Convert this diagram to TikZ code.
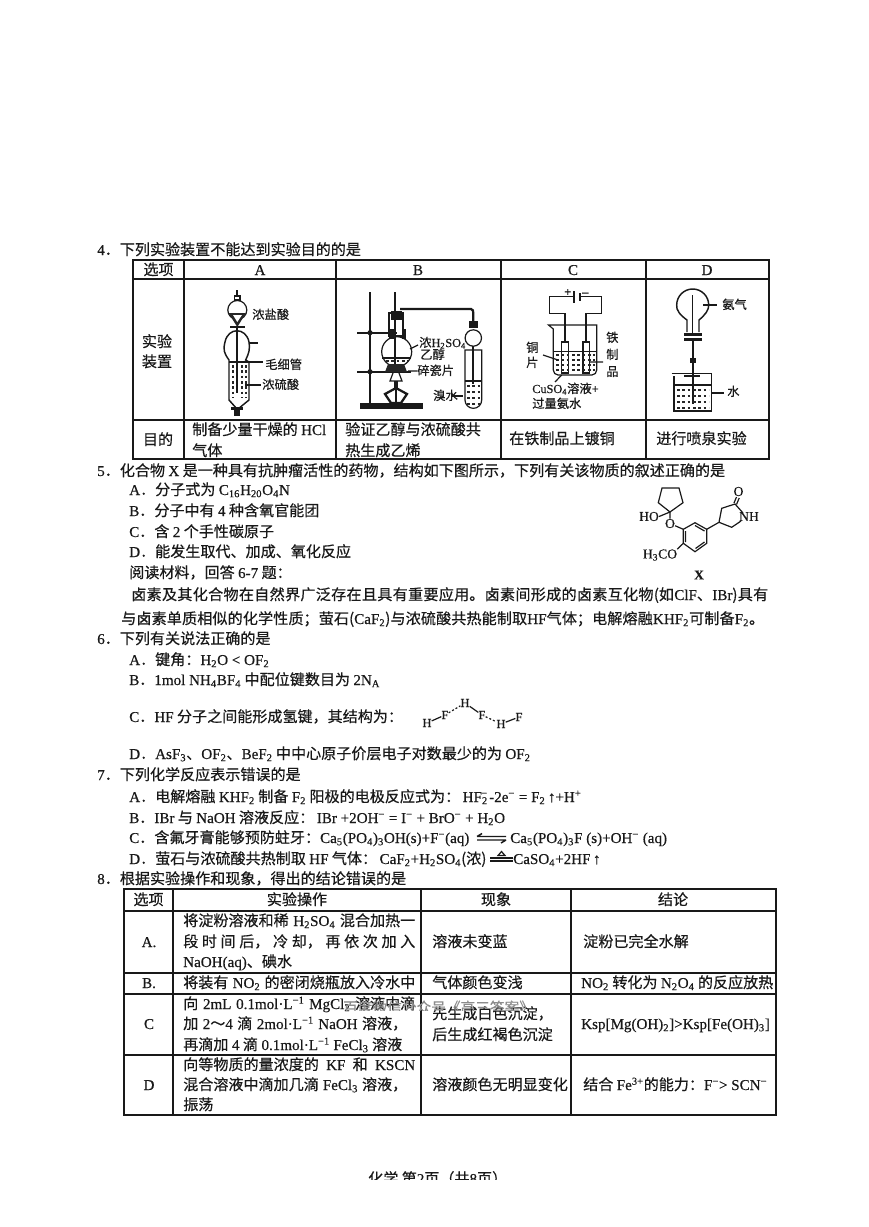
\documentclass[tikz,border=0pt]{standalone}
\usepackage{fontspec}
\setmainfont{Noto Sans CJK SC}[RawFeature={embolden=0.5}]
\newfontfamily\ltn{Liberation Serif}[RawFeature={embolden=0.5}]
\usetikzlibrary{calc}
\newcommand\Lt[1]{{\ltn #1}}
\newcommand\sbb[1]{\textsubscript{\ltn #1}}
\newcommand\spp[1]{\textsuperscript{\ltn #1}}
\newcommand\tx[4]{\node[lbl] (#1) at (#2,#3) {#4};}
\newcommand\sx[5]{\node[lbl] (#1) at (#2,#3) {\makebox[\dimexpr #4pt*75/100\relax][s]{\spaceskip=0.1pt plus 1fil\relax #5}};}
\newcommand\smc[4]{\node[sml] (#1) at (#2,#3) {#4};}
\newcommand\ctr[4]{\node[cen] (#1) at (#2,#3) {#4};}
\tikzset{
  lbl/.style={anchor=base west,inner sep=0pt,font=\fontsize{11.3}{13}\selectfont,text=black!90},
  sml/.style={anchor=base west,inner sep=0pt,font=\fontsize{9.2}{11}\selectfont,text=black!90},
  cen/.style={anchor=base,inner sep=0pt,font=\fontsize{11.3}{13}\selectfont,text=black!90},
  mol/.style={anchor=center,inner sep=0pt,font=\fontsize{10.2}{12}\selectfont,text=black!90},
  tabo/.style={line width=1.5pt,black!90},
  tabi/.style={line width=0.9pt,black!90},
  app/.style={line width=0.9pt,black!90},
  thk/.style={line width=1.7pt,black!90},
  liq/.style={line width=0.8pt,black!85,dash pattern=on 2pt off 2pt},
}
\begin{document}
\begin{tikzpicture}[x=0.75pt,y=-0.75pt]
\useasboundingbox (0,0) rectangle (868,1227);
% ---------- Question 4
\tx{qf}{97}{255}{\Lt{4}．下列实验装置不能达到实验目的的是}
\draw[tabo] (133,260) rectangle (769,459);
\draw[tabi] (133,279)--(769,279) (133,420)--(769,420);
\draw[tabi] (184,260)--(184,459) (336,260)--(336,459) (501,260)--(501,459) (646,260)--(646,459);
\ctr{ha}{158.5}{275}{选项}
\ctr{hb}{260}{275}{\Lt{A}}
\ctr{hc}{418}{275}{\Lt{B}}
\ctr{hd}{573}{275}{\Lt{C}}
\ctr{he}{707}{275}{\Lt{D}}
\ctr{za}{157}{347}{实验}
\ctr{zb}{157}{367}{装置}
\ctr{mu}{158}{445}{目的}
\tx{ma}{192}{435}{制备少量干燥的 \Lt{HCl}}
\tx{mb}{192}{456}{气体}
\tx{mc}{345}{435}{验证乙醇与浓硫酸共}
\tx{md}{345}{456}{热生成乙烯}
\tx{me}{509}{444}{在铁制品上镀铜}
\tx{mf}{656}{444}{进行喷泉实验}
% Apparatus A
\draw[thk] (237.3,290)--(237.3,296);
\draw[app] (234.5,296) rectangle (240,300);
\draw[app] (237.3,310) circle (9.5);
\fill[black!85] (228.5,313) -- (246,313) -- (237.3,327) -- cycle;
\fill[white] (233,315) -- (242,315) -- (237.3,322) -- cycle;
\draw[line width=1.8pt,black!90] (230,327) -- (245,327);
\draw[thk] (237.3,326)--(237.3,362);
\draw[app,line width=1.1pt] (229,360) .. controls (224,353) and (223,350) .. (225,342)
  .. controls (228,327) and (246,327) .. (249,342) .. controls (250,350) and (249,353) .. (245.6,360)
  -- (249,362) -- (249,400) -- (238,409) -- (237,409) -- (229,400) -- (229,362) -- cycle;
\draw[thk] (249,343.3)--(258.3,343.3);
\draw[line width=1.3pt,black!90] (229,362)--(263,362);
\draw[line width=1.3pt,black!90] (237.3,362)--(237.3,393);
\foreach \xx in {233,242,246}{\draw[liq,line width=1.1pt] (\xx,365)--(\xx,398);}
\fill[black!90] (231,407) rectangle (243,410);
\fill[black!90] (234,410) rectangle (240,416);
\draw[app] (245,385)--(261,385);
\smc{la}{252}{319}{浓盐酸}
\smc{lb}{265}{369}{毛细管}
\smc{lc}{262}{389}{浓硫酸}
% Apparatus B
\draw[thk] (370,292)--(370,405);
\fill[black!90] (360,403) rectangle (423,408.5);
\draw[thk] (357,332.7)--(397,332.7);
\draw[thk] (357,371.7)--(411,371.7);
\fill[black!90] (370,332.7) circle (2.6) (370,371.7) circle (2.6);
\draw[line width=1.3pt,black!90] (395,292)--(395,364);
\fill[black!90] (389,329) rectangle (394,339);
\fill[black!90] (402,329) rectangle (406,339);
\draw[app] (389,313) rectangle (403,336);
\fill[black!90] (391,311) rectangle (402,320);
\draw[app] (396.7,351.7) circle (15);
\draw[app] (382,358)--(411,358);
\draw[liq] (386,361)--(408,361);
\fill[black!85] (388,364)--(404,364)--(407,372)--(385,372)--cycle;
\draw[thk] (400,309)--(471,309) to[out=0,in=90] (473.3,313) -- (473.3,322);
\fill[black!90] (469,321) rectangle (478,328);
\draw[app] (473.3,338) circle (8.2);
\draw[line width=1.3pt,black!90] (473.3,346)--(473.3,384);
\draw[app] (465,350)--(465,400) arc[start angle=180,end angle=0,radius=8.35]--(481.7,350)--cycle;
\draw[app] (465,381)--(481.7,381);
\foreach \py in {386,392,398,404}{\draw[liq] (467,\py)--(480,\py);}
\draw[app] (393,373)--(390,381)--(402,381)--(399,373);
\fill[black!90] (394,381) rectangle (398,388);
\draw[thk] (385,394)--(396,388)--(407,394)--(401,403)--(391,403)--cycle;
\draw[app] (396,388)--(396,403);
\draw[app] (410,349)--(418,345) (408,371)--(417,371);
\draw[app] (452,396)--(463,396);
\smc{ld}{419}{347}{浓\Lt{H\sbb{2}SO\sbb{4}}}
\smc{le}{420}{359}{乙醇}
\smc{lf}{417}{375}{碎瓷片}
\smc{lg}{433}{400}{溴水}
% Apparatus C
\draw[app] (574,296.7)--(549.3,296.7)--(549.3,313.3)--(565,313.3)--(565,342);
\draw[app] (580,296.7)--(601.7,296.7)--(601.7,313.3)--(586,313.3)--(586,342);
\draw[line width=1pt,black!90] (574,291)--(574,303);
\draw[line width=1.8pt,black!90] (580,293)--(580,301);
\smc{ph}{564}{296}{\Lt{\textbf{+}}}
\smc{mi}{582}{296}{\Lt{\textbf{–}}}
\draw[app] (548.5,325)--(596.7,325)--(596.7,370) to[out=-90,in=0] (592,375)--(558,375) to[out=180,in=-90] (553.3,370)--(553.3,329)--cycle;
\draw[app] (561.7,342) rectangle (568.3,373);
\draw[app] (583,342) rectangle (589.3,373);
\draw[app] (553.3,351.7)--(596.7,351.7);
\foreach \py in {355,360,365,370}{
  \draw[liq,line width=1.1pt] (556,\py)--(595,\py);
}
\draw[app] (543,355)--(558,360) (589,362)--(603,362) (561.7,375)--(555,382);
\smc{lh}{526}{352}{铜}
\smc{li}{526}{367}{片}
\smc{lj}{606}{342}{铁}
\smc{lk}{606}{359}{制}
\smc{ll}{606}{376}{品}
\smc{lm}{532}{393}{\Lt{CuSO\sbb{4}}溶液\Lt{+}}
\smc{ln}{532}{408}{过量氨水}
% Apparatus D
\draw[app,line width=1.1pt] (687,332) -- (687,320) .. controls (680,315) and (676,310) .. (676.7,305)
  arc[start angle=180,end angle=360,radius=16] .. controls (709,310) and (705,315) .. (699,320) -- (699,332);
\draw[line width=1.1pt,black!90] (692.7,295)--(692.7,333);
\fill[black!90] (684,333) rectangle (702,336);
\fill[black!90] (684,338) rectangle (702,341);
\draw[line width=1.6pt,black!90] (692.7,341)--(692.7,404);
\fill[black!90] (690,358) rectangle (696,363);
\draw[app] (671.5,373.5)--(711.7,373.5)--(711.7,411)--(674,411)--(674,376);
\draw[app] (674,385)--(711.7,385);
\draw[app] (684,376)--(700,376);
\foreach \py in {390,396,402,408}{
  \draw[liq,line width=1.1pt] (677,\py)--(709,\py);
}
\draw[app] (703,305)--(717,305) (711,393)--(724,393);
\smc{lo}{722}{309}{氨气}
\smc{lp}{727}{396}{水}
% ---------- Question 5
\tx{qg}{97}{476}{\Lt{5}．化合物 \Lt{X} 是一种具有抗肿瘤活性的药物，结构如下图所示，下列有关该物质的叙述正确的是}
\tx{qa}{129}{495}{\Lt{A}．分子式为 \Lt{C\sbb{16}H\sbb{20}O\sbb{4}N}}
\tx{qb}{129}{516}{\Lt{B}．分子中有 \Lt{4} 种含氧官能团}
\tx{qc}{129}{537}{\Lt{C}．含 \Lt{2} 个手性碳原子}
\tx{qd}{129}{557}{\Lt{D}．能发生取代、加成、氧化反应}
\tx{qe}{129}{578}{阅读材料，回答 \Lt{6-7} 题：}
\sx{qh}{131}{600}{637}{卤 素 及 其 化 合 物 在 自 然 界 广 泛 存 在 且 具 有 重 要 应 用。 卤 素 间 形 成 的 卤 素 互 化 物 (如 \Lt{ClF}、 \Lt{IBr}) 具 有}
\sx{qi}{121}{624}{629}{与 卤 素 单 质 相 似 的 化 学 性 质； 萤 石 (\Lt{CaF\sbb{2}}) 与 浓 硫 酸 共 热 能 制 取 \Lt{HF} 气 体； 电 解 熔 融 \Lt{KHF\sbb{2}} 可 制 备 \Lt{F\sbb{2}}。}
% Molecule X
\coordinate (c1) at (670,512);
\coordinate (c2) at (658.3,502.7);
\coordinate (c3) at (662,488);
\coordinate (c4) at (679,488);
\coordinate (c5) at (683,502.7);
\draw[app] (c1)--(c2)--(c3)--(c4)--(c5)--cycle;
\coordinate (b1) at (683.3,529.3);
\coordinate (b2) at (695,522.7);
\coordinate (b3) at (706.7,529.3);
\coordinate (b4) at (706.7,543.3);
\coordinate (b5) at (695,551.7);
\coordinate (b6) at (683.3,543.3);
\draw[app] (b1)--(b2)--(b3)--(b4)--(b5)--(b6)--cycle;
\draw[app] (695,525.5)--(704.5,531) (704.5,542)--(695.5,548.5) (685.5,531)--(685.5,542);
\coordinate (p1) at (719,522.3);
\coordinate (p2) at (721.7,508.3);
\coordinate (p3) at (735,504);
\coordinate (p4) at (743,513);
\coordinate (p5) at (731.7,527.3);
\coordinate (p6) at (741,521);
\draw[app] (b3)--(p1)--(p2)--(p3)--(p4) (p6)--(p5)--(p1);
\draw[app] (734,503)--(736.5,497) (736.5,504.5)--(739.2,498);
\node[mol] (ho) at (649,516.5) {\Lt{HO}};
\draw[app] (ho.east)--(c1);
\node[mol] (oa) at (670,523.5) {\Lt{O}};
\draw[app] (c1)--(oa) (oa)--(b1);
\node[mol] (ob) at (738.5,491.5) {\Lt{O}};
\node[mol] (nh) at (749,516.5) {\Lt{NH}};
\node[mol] (me) at (660,555) {\Lt{H\sbb{3}CO}};
\draw[app] (me.north east)--(b6);
\node[mol] (xl) at (699,575) {\Lt{\textbf{X}}};
% ---------- Question 6
\tx{qj}{97}{644}{\Lt{6}．下列有关说法正确的是}
\tx{qk}{129}{665}{\Lt{A}．键角：\Lt{H\sbb{2}O < OF\sbb{2}}}
\tx{ql}{129}{685}{\Lt{B}．\Lt{1mol NH\sbb{4}BF\sbb{4}} 中配位键数目为 \Lt{2N\sbb{A}}}
\tx{qm}{129}{722}{\Lt{C}．\Lt{HF} 分子之间能形成氢键，其结构为：}
\node[sml,anchor=center] (h1) at (427,723) {\Lt{H}};
\node[sml,anchor=center] (f1) at (445,715) {\Lt{F}};
\node[sml,anchor=center] (h2) at (465,703) {\Lt{H}};
\node[sml,anchor=center] (f2) at (482,715) {\Lt{F}};
\node[sml,anchor=center] (h3) at (501,724) {\Lt{H}};
\node[sml,anchor=center] (f3) at (519,717) {\Lt{F}};
\draw[app] (h1)--(f1) (h2)--(f2) (h3)--(f3);
\draw[app,dash pattern=on 1.5pt off 1.5pt] (f1)--(h2) (f2)--(h3);
\tx{qn}{129}{759}{\Lt{D}．\Lt{AsF\sbb{3}}、\Lt{OF\sbb{2}}、\Lt{BeF\sbb{2}} 中中心原子价层电子对数最少的为 \Lt{OF\sbb{2}}}
% ---------- Question 7
\tx{qo}{97}{780}{\Lt{7}．下列化学反应表示错误的是}
\tx{qp}{129}{802}{\Lt{A}．电解熔融 \Lt{KHF\sbb{2}} 制备 \Lt{F\sbb{2}} 阳极的电极反应式为：\,\Lt{HF\textsubscript{2}\kern-0.45em\textsuperscript{−}\kern0.1em -2e\spp{−} = F\sbb{2}\,↑+H\spp{+}}}
\tx{qq}{129}{823}{\Lt{B}．\Lt{IBr} 与 \Lt{NaOH} 溶液反应：\,\Lt{IBr +2OH\spp{−} = I\spp{−} + BrO\spp{−} + H\sbb{2}O}}
\tx{qr}{129}{843}{\Lt{C}．含氟牙膏能够预防蛀牙：\Lt{Ca\sbb{5}(PO\sbb{4})\sbb{3}OH(s)+F\spp{−}(aq)}}
\draw[line width=1.1pt,black!90] (477,836.5)--(506,836.5) (477,836.5)--(482,833.5);
\draw[line width=1.1pt,black!90] (477,840)--(506,840) (506,840)--(501,843);
\tx{qs}{510}{843}{\Lt{Ca\sbb{5}(PO\sbb{4})\sbb{3}F (s)+OH\spp{−} (aq)}}
\tx{qt}{129}{864}{\Lt{D}．萤石与浓硫酸共热制取 \Lt{HF} 气体：\,\Lt{CaF\sbb{2}+H\sbb{2}SO\sbb{4}}(浓)}
\draw[app] (490,858)--(513,858) (490,861)--(513,861);
\draw[app] (498,855.5)--(501.5,851.5)--(505,855.5)--cycle;
\tx{qu}{513}{864}{\Lt{CaSO\sbb{4}+2HF\,↑}}
% ---------- Question 8
\tx{qv}{97}{884}{\Lt{8}．根据实验操作和现象，得出的结论错误的是}
\draw[tabo] (124,889) rectangle (776,1115);
\draw[tabi] (124,911)--(776,911);
\draw[tabi] (124,973)--(776,973) (124,994)--(776,994) (124,1055)--(776,1055);
\draw[tabi] (173,889)--(173,1115) (421,889)--(421,1115) (571,889)--(571,1115);
\ctr{ta}{148.5}{905}{选项}
\ctr{tb}{297}{905}{实验操作}
\ctr{tc}{496}{905}{现象}
\ctr{td}{673}{905}{结论}
\ctr{te}{149}{947}{\Lt{A.}}
\ctr{tf}{149}{988}{\Lt{B.}}
\ctr{tg}{149}{1029}{\Lt{C}}
\ctr{th}{149}{1090}{\Lt{D}}
\sx{ua}{183}{926}{232}{将淀粉溶液和稀 \Lt{H\sbb{2}SO\sbb{4}} 混合加热一}
\sx{ub}{183}{947}{232}{段 时 间 后， 冷 却， 再 依 次 加 入}
\tx{uc}{183}{967}{\Lt{NaOH(aq)}、碘水}
\sx{ud}{183}{988}{232}{将装有 \Lt{NO\sbb{2}} 的密闭烧瓶放入冷水中}
\sx{ue}{183}{1009}{232}{向 \Lt{2mL 0.1mol·L\spp{−1}} \Lt{MgCl\sbb{2}} 溶液中滴}
\sx{uf}{183}{1029}{224}{加 \Lt{2}～\Lt{4} 滴 \Lt{2mol·L\spp{−1}} \Lt{NaOH} 溶液，}
\sx{ug}{183}{1050}{219}{再滴加 \Lt{4} 滴 \Lt{0.1mol·L\spp{−1}} \Lt{FeCl\sbb{3}} 溶液}
\sx{uh}{183}{1070}{232}{向等物质的量浓度的 \Lt{KF} 和 \Lt{KSCN}}
\sx{ui}{183}{1090}{224}{混合溶液中滴加几滴 \Lt{FeCl\sbb{3}} 溶液，}
\tx{uj}{183}{1110}{振荡}
\tx{va}{432}{947}{溶液未变蓝}
\tx{vb}{432}{988}{气体颜色变浅}
\tx{vc}{432}{1019}{先生成白色沉淀，}
\tx{vd}{432}{1040}{后生成红褐色沉淀}
\tx{ve}{432}{1090}{溶液颜色无明显变化}
\tx{wa}{583}{947}{淀粉已完全水解}
\tx{wb}{581}{988}{\Lt{NO\sbb{2}} 转化为 \Lt{N\sbb{2}O\sbb{4}} 的反应放热}
\tx{wc}{581}{1029}{\Lt{Ksp[Mg(OH)\sbb{2}]>Ksp[Fe(OH)\sbb{3}]}}
\tx{wd}{583}{1090}{结合 \Lt{Fe\spp{3+}}的能力：\Lt{F\spp{−}> SCN\spp{−}}}
% watermark
\begin{scope}
\clip (330,995) rectangle (540,1010);
\node[lbl,text=black!45,font=\fontsize{11}{13}\selectfont] (wm) at (343,1013) {百度微信公众号《高三答案》};
\end{scope}
% footer, cut by the scan
\begin{scope}
\clip (350,1160) rectangle (520,1179);
\node[lbl] (ft) at (368,1184) {化学\ 第\Lt{2}页（共\Lt{8}页）};
\end{scope}
\end{tikzpicture}
\end{document}
